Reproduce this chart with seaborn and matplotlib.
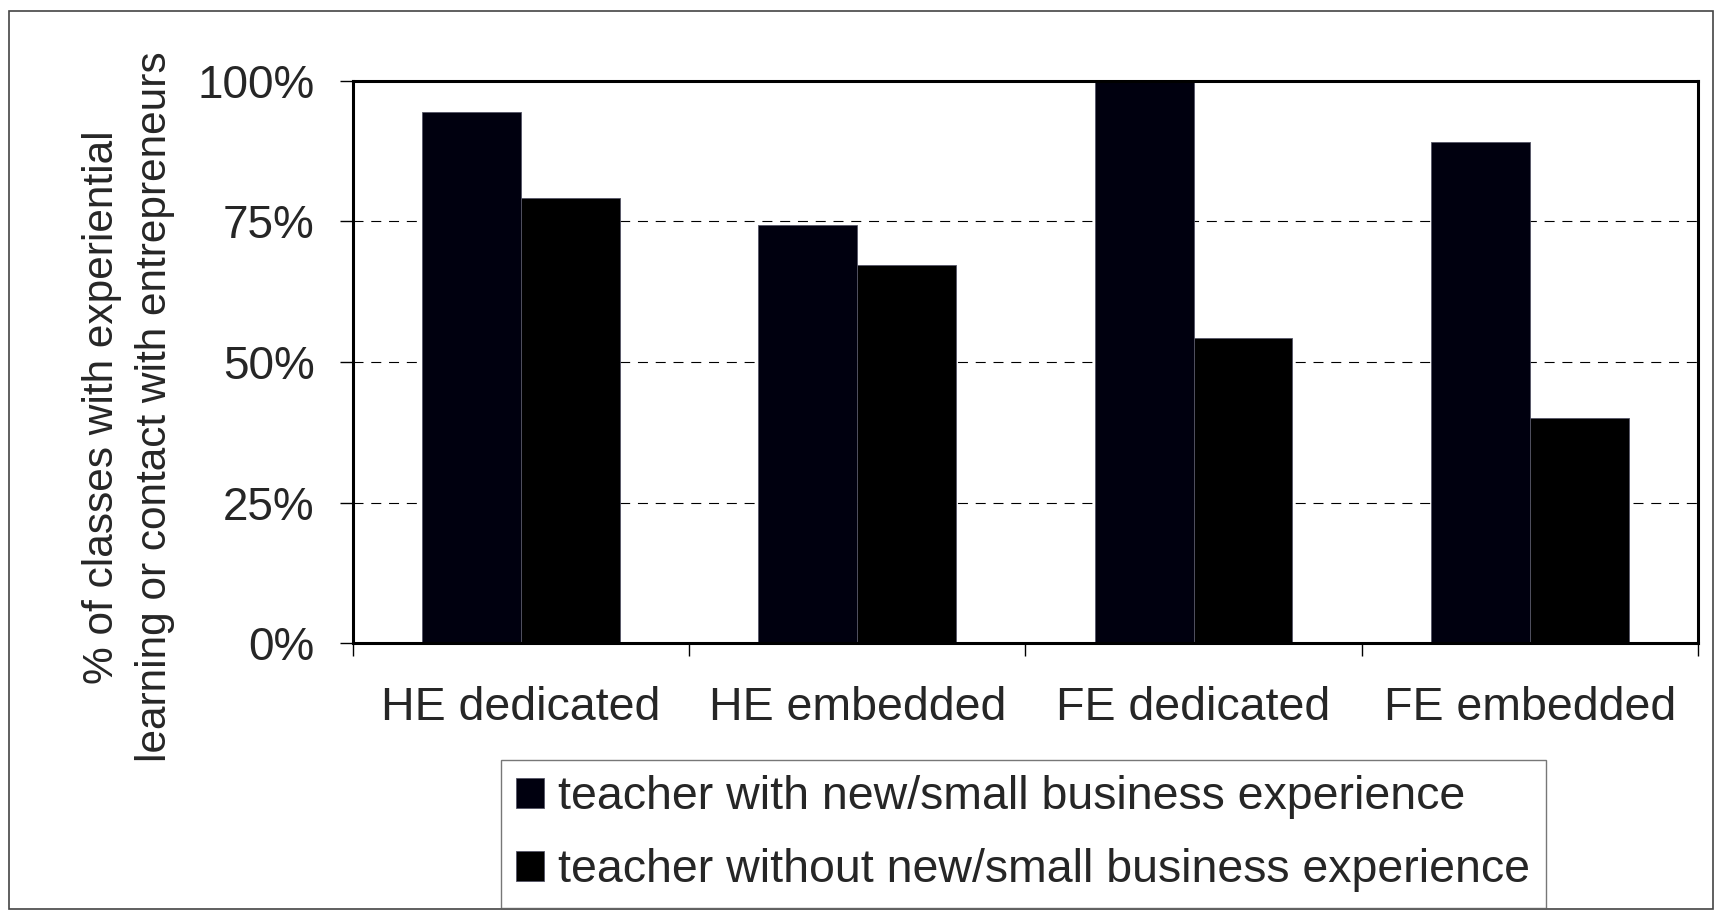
import pandas as pd
import matplotlib
matplotlib.use("Agg")
import matplotlib.pyplot as plt
import seaborn as sns
from matplotlib.patches import Rectangle

# data
categories = ["HE dedicated", "HE embedded", "FE dedicated", "FE embedded"]
with_exp = [94.4, 74.4, 100.0, 89.1]
without_exp = [79.2, 67.2, 54.3, 40.1]
series_names = ["teacher with new/small business experience",
                "teacher without new/small business experience"]
y_ticks = [0, 25, 50, 75, 100]
y_tick_labels = ["0%", "25%", "50%", "75%", "100%"]

df = pd.DataFrame({
    "category": categories * 2,
    "value": with_exp + without_exp,
    "series": [series_names[0]] * 4 + [series_names[1]] * 4,
})

sns.set_style("white")
plt.rcParams["font.family"] = ["Liberation Sans", "DejaVu Sans"]

fig = plt.figure(figsize=(17.2, 9.13), dpi=100)
ax = fig.add_axes([0.2052, 0.2954, 0.9872 - 0.2052, 0.9116 - 0.2954])

sns.barplot(data=df, x="category", y="value", hue="series", order=categories,
            hue_order=series_names, palette=["#00000f", "#000000"],
            width=0.588, gap=0, saturation=1, edgecolor="#555566",
            linewidth=0.6, ax=ax)

ax.set_xlim(-0.5, 3.5)
ax.set_ylim(0, 100)
ax.set_axisbelow(True)

# grid lines
for v in [25, 50, 75]:
    ax.axhline(v, color="black", linewidth=0.8, linestyle=(0, (9, 7)), zorder=0)

# y axis
ax.set_yticks(y_ticks)
ax.set_yticklabels(y_tick_labels, fontsize=33)
ax.tick_params(axis="y", direction="out", length=9.5, width=1, pad=18,
               color="black", left=True)

# x axis: ticks at category borders, labels in the middle
ax.set_xticks([-0.5, 0.5, 1.5, 2.5, 3.5])
ax.set_xticklabels([])
ax.set_xticks([0, 1, 2, 3], minor=True)
ax.set_xticklabels(categories, minor=True, fontsize=33.5)
ax.tick_params(axis="x", which="major", direction="out", length=9.5, width=1,
               bottom=True, color="black")
ax.tick_params(axis="x", which="minor", length=0, pad=31)

ax.set_xlabel("")
ax.set_ylabel("")
for s in ax.spines.values():
    s.set_visible(True)
    s.set_color("black")
    s.set_linewidth(2.2)

# y label, two lines
fig.text(0.0745, 1 - 407 / 913,
         "% of classes with experiential\nlearning or contact with entrepreneurs",
         rotation=90, ha="center", va="center", fontsize=30.5, linespacing=1.42)

# legend
handles, labels = ax.get_legend_handles_labels()
ax.legend_.remove()
leg = fig.legend(handles, labels, loc="upper left",
                 bbox_to_anchor=(501 / 1720, 1 - 760 / 913),
                 fontsize=33.5, frameon=True, fancybox=False, edgecolor="#555555",
                 handlelength=0.6, handleheight=0.6, handletextpad=0.3,
                 labelspacing=0.62, borderpad=0.33, borderaxespad=0)
leg.get_frame().set_linewidth(1)

# outer frame
fig.patches.append(Rectangle((9 / 1720, 1 - 909 / 913), 1704 / 1720, 898 / 913,
                             transform=fig.transFigure, fill=False,
                             edgecolor="#444444", linewidth=1.2))

fig.savefig("out.png", dpi=100)
